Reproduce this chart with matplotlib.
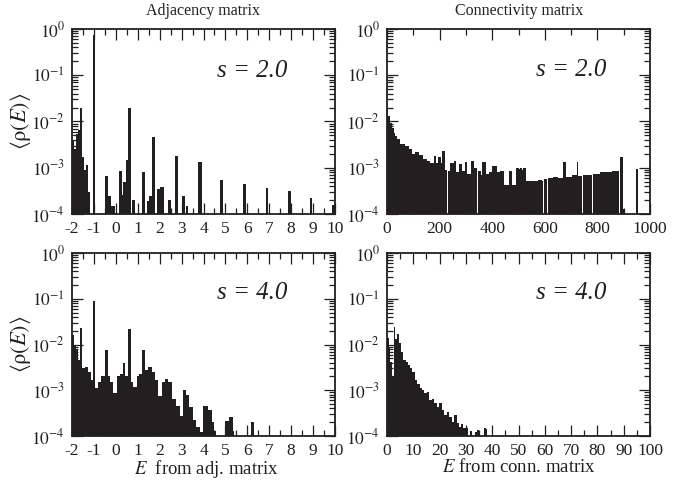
import numpy as np
import matplotlib
matplotlib.use("Agg")
import matplotlib.pyplot as plt
from matplotlib.ticker import LogLocator, MultipleLocator, FuncFormatter, NullFormatter

plt.rcParams['font.family'] = ['Liberation Serif', 'DejaVu Serif']
plt.rcParams['mathtext.fontset'] = 'stix'
plt.rcParams['axes.unicode_minus'] = False

INK = '#231f20'

# ---------------- data: histogram bin edges and <rho(E)> per bin ----------------
# Adjacency matrix, s = 2.0
adj2_edges = [-2.0, -1.91, -1.82, -1.71, -1.63, -1.54, -1.45, -1.36, -1.27, -1.16,
              -1.04, -0.95, -0.49, -0.38, -0.2, -0.05, 0.16, 0.27, 0.34, 0.47,
              0.57, 0.68, 0.72, 0.88, 1.18, 1.33, 1.41, 1.53, 1.64, 1.79,
              1.90, 2.02, 2.2, 2.4, 2.5, 2.7, 2.85, 3.0, 3.16, 3.2,
              3.3, 3.77, 3.92, 4.77, 4.89, 5.81, 5.93, 6.83, 6.95, 7.85,
              7.97, 8.85, 8.97, 9.87, 9.99]
adj2_rho = [4.0e-3, 2.6e-3, 5.5e-3, 6.6e-3, 1.95e-2, 1.7e-3, 9e-4, 1.15e-3, 3e-4, 0,
            0.75, 0, 6.6e-4, 2.5e-4, 1.5e-4, 0, 8.5e-4, 2.6e-4, 5e-4, 1.5e-3,
            1.95e-2, 0, 2e-4, 0, 8e-4, 0, 1.9e-4, 2.4e-4, 4.7e-3, 0,
            3.4e-4, 3.8e-4, 0, 2e-4, 0, 1.8e-3, 0, 2.4e-4, 0, 1.5e-4,
            0, 1.3e-3, 0, 5.5e-4, 0, 4.5e-4, 0, 3.6e-4, 0, 3.2e-4,
            0, 2.2e-4, 0, 1.6e-4]

# Adjacency matrix, s = 4.0
adj4_edges = [-2.0, -1.91, -1.82, -1.71, -1.63, -1.53, -1.41, -1.26, -1.15, -1.06,
              -1.03, -0.97, -0.81, -0.66, -0.49, -0.38, -0.26, -0.11, 0.04, 0.19,
              0.31, 0.41, 0.57, 0.68, 0.80, 0.95, 1.07, 1.21, 1.31, 1.49,
              1.64, 1.79, 1.94, 2.10, 2.25, 2.40, 2.55, 2.75, 2.93, 3.08,
              3.20, 3.36, 3.51, 3.66, 3.84, 3.99, 4.22, 4.38, 4.48, 4.57,
              5.00, 5.15, 5.33, 5.40, 6.15, 6.30]
adj4_rho = [1.6e-2, 9.8e-3, 7.6e-3, 4.6e-3, 2.3e-2, 3.0e-3, 3.2e-3, 2.5e-3, 1.7e-3, 1.0e-3,
            9.0e-2, 1.1e-3, 1.5e-3, 2.1e-3, 7.6e-3, 2.0e-3, 1.5e-3, 8.7e-4, 2.0e-3, 2.3e-3,
            3.9e-3, 2.1e-3, 2.2e-2, 1.5e-3, 1.2e-3, 2.1e-3, 2.3e-3, 7.6e-3, 2.8e-3, 3.3e-3,
            2.5e-3, 1.7e-3, 7.4e-4, 1.5e-3, 1.8e-3, 1.5e-3, 6.3e-4, 4.5e-4, 2.7e-4, 1.0e-3,
            7.9e-4, 4.4e-4, 2.2e-4, 1.6e-4, 1.25e-4, 4.5e-4, 3.7e-4, 2.0e-4, 1.3e-4, 0,
            2.1e-4, 2.6e-4, 1.3e-4, 0, 2.0e-4]

# Connectivity matrix, s = 2.0
con2_edges = [0, 5, 12, 18, 25, 31, 38, 51, 70, 82,
              95, 108, 120, 137, 152, 165, 178, 187, 194, 204,
              210, 220, 228, 231, 241, 254, 262, 275, 285, 295,
              305, 320, 330, 343, 346, 357, 362, 375, 388, 400,
              417, 430, 445, 464, 477, 492, 500, 506, 512, 519,
              527, 557, 573, 588, 595, 598, 608, 611, 632, 651,
              656, 659, 670, 680, 702, 705, 721, 727, 740, 745,
              753, 772, 780, 783, 797, 810, 827, 842, 855, 868,
              884, 887, 897, 905, 945, 956]
con2_rho = [1.95e-2, 1.3e-2, 9.3e-3, 7.2e-3, 5.6e-3, 4.8e-3, 4.1e-3, 3.3e-3, 2.9e-3, 2.5e-3,
            2.0e-3, 2.2e-3, 1.9e-3, 1.55e-3, 1.4e-3, 1.26e-3, 1.8e-3, 1.26e-3, 1.75e-3, 1.26e-3,
            2.25e-3, 9e-4, 0, 8.5e-4, 1.26e-3, 1.4e-3, 8e-4, 1.2e-3, 8.5e-4, 1.3e-3,
            7.5e-4, 1.4e-3, 1.0e-3, 0, 8.5e-4, 7e-4, 1.3e-3, 7.5e-4, 8e-4, 1.1e-3,
            8e-4, 8.5e-4, 4.3e-4, 8.7e-4, 4.3e-4, 9.7e-4, 9.2e-4, 9.7e-4, 9e-4, 9.7e-4,
            5.1e-4, 5.3e-4, 5.4e-4, 5.2e-4, 0, 5.6e-4, 0, 6e-4, 6.3e-4, 6e-4,
            0, 6e-4, 1.3e-3, 6.3e-4, 0, 6.9e-4, 1.35e-3, 6.7e-4, 0, 6.8e-4,
            6.9e-4, 7e-4, 0, 7.2e-4, 7.5e-4, 7.9e-4, 8e-4, 8e-4, 8.3e-4, 8.3e-4,
            0, 1.7e-3, 1.3e-4, 0, 9.3e-4]

# Connectivity matrix, s = 4.0
con4_edges = [0, 0.6, 1.2, 1.9, 2.5, 3.1, 3.7, 4.6, 5.3, 6.2,
              7.1, 7.9, 8.7, 9.6, 10.6, 11.5, 12.5, 13.4, 14.2, 15.1,
              16.0, 17.0, 18.0, 18.9, 19.8, 20.8, 21.8, 22.7, 23.6, 24.6,
              25.6, 26.5, 27.4, 28.1, 29.0, 29.9, 30.7, 31.6, 32.5, 33.5,
              34.3, 35.0, 36.9, 37.5, 38.1]
con4_rho = [1.36e-2, 9e-3, 4.2e-3, 2.1e-3, 2.45e-2, 1.3e-2, 1.7e-2, 1.08e-2, 6.9e-3, 4.6e-3,
            4.2e-3, 3.6e-3, 3.0e-3, 2.5e-3, 1.7e-3, 1.4e-3, 1.1e-3, 1.0e-3, 8.5e-4, 9e-4,
            6.2e-4, 6.5e-4, 5.2e-4, 4.4e-4, 5.2e-4, 3.7e-4, 2.9e-4, 3.4e-4, 2.6e-4, 2.0e-4,
            2.9e-4, 1.9e-4, 1.6e-4, 1.8e-4, 1.5e-4, 1.5e-4, 0, 1.3e-4, 0, 1.25e-4,
            1.35e-4, 0, 1.5e-4, 1.45e-4]

panel_titles = ['Adjacency matrix', 'Connectivity matrix']
s_labels = ['s = 2.0', 's = 4.0']
x_labels = [r'$E$  from adj. matrix', r'$E$ from conn. matrix']
y_label = r'$\langle\mathrm{\rho}(E)\rangle$'

# ---------------- figure ----------------
W, H = 688, 480
fig = plt.figure(figsize=(W / 100, H / 100), dpi=100)

def box(x0, y0, x1, y1):
    return [x0 / W, 1 - y1 / H, (x1 - x0) / W, (y1 - y0) / H]

ax_tl = fig.add_axes(box(72, 29, 335, 214))
ax_tr = fig.add_axes(box(387, 29, 650, 214))
ax_bl = fig.add_axes(box(72, 253, 335, 436))
ax_br = fig.add_axes(box(387, 253, 650, 436))

BASE = 1e-6

def draw(ax, edges, vals):
    v = np.asarray(vals, dtype=float)
    v = np.where(v > 0, v, BASE)
    ax.stairs(v, np.asarray(edges, dtype=float), baseline=BASE, fill=True,
              color=INK, linewidth=0)

def style(ax, xlim, major, minor):
    ax.set_yscale('log')
    ax.set_ylim(1e-4, 1)
    ax.set_xlim(*xlim)
    ax.xaxis.set_major_locator(MultipleLocator(major))
    ax.xaxis.set_minor_locator(MultipleLocator(minor))
    ax.yaxis.set_major_locator(LogLocator(base=10, numticks=10))
    ax.yaxis.set_minor_locator(LogLocator(base=10, subs=np.arange(2, 10), numticks=10))
    ax.yaxis.set_minor_formatter(NullFormatter())
    ax.yaxis.set_major_formatter(FuncFormatter(lambda y, p: r'$10^{%d}$' % int(round(np.log10(y)))))
    ax.tick_params(which='both', direction='in', top=True, right=True, colors=INK,
                   labelsize=12.5, width=0.9)
    ax.tick_params(which='major', length=8, pad=5)
    ax.tick_params(which='minor', length=4)
    for sp in ax.spines.values():
        sp.set_linewidth(1.3)
        sp.set_color(INK)

draw(ax_tl, adj2_edges, adj2_rho)
draw(ax_bl, adj4_edges, adj4_rho)
draw(ax_tr, con2_edges, con2_rho)
draw(ax_br, con4_edges, con4_rho)

style(ax_tl, (-2, 10), 1, 0.5)
style(ax_bl, (-2, 10), 1, 0.5)
style(ax_tr, (0, 1000), 200, 100)
style(ax_br, (0, 100), 10, 5)

for ax, lab, yf in [(ax_tl, s_labels[0], 0.775), (ax_tr, s_labels[0], 0.78),
                    (ax_bl, s_labels[1], 0.78), (ax_br, s_labels[1], 0.78)]:
    xf = 0.684 if ax in (ax_tl, ax_bl) else 0.70
    ax.text(xf, yf, lab, transform=ax.transAxes, ha='center', va='center',
            fontsize=18, style='italic', color=INK)

for ax in (ax_tl, ax_bl):
    ax.set_ylabel(y_label, fontsize=16, color=INK)
    ax.yaxis.set_label_coords(-0.15, 0.5)

ax_bl.set_xlabel(x_labels[0], fontsize=13.5, color=INK)
ax_bl.xaxis.set_label_coords(0.513, -0.122)
ax_br.set_xlabel(x_labels[1], fontsize=13.5, color=INK)
ax_br.xaxis.set_label_coords(0.5, -0.122)

fig.text(203 / W, 1 - 11 / H, panel_titles[0], ha='center', va='center',
         fontsize=11.5, color=INK)
fig.text(519 / W, 1 - 11 / H, panel_titles[1], ha='center', va='center',
         fontsize=11.5, color=INK)

fig.savefig('out.png', dpi=100, facecolor='white')
